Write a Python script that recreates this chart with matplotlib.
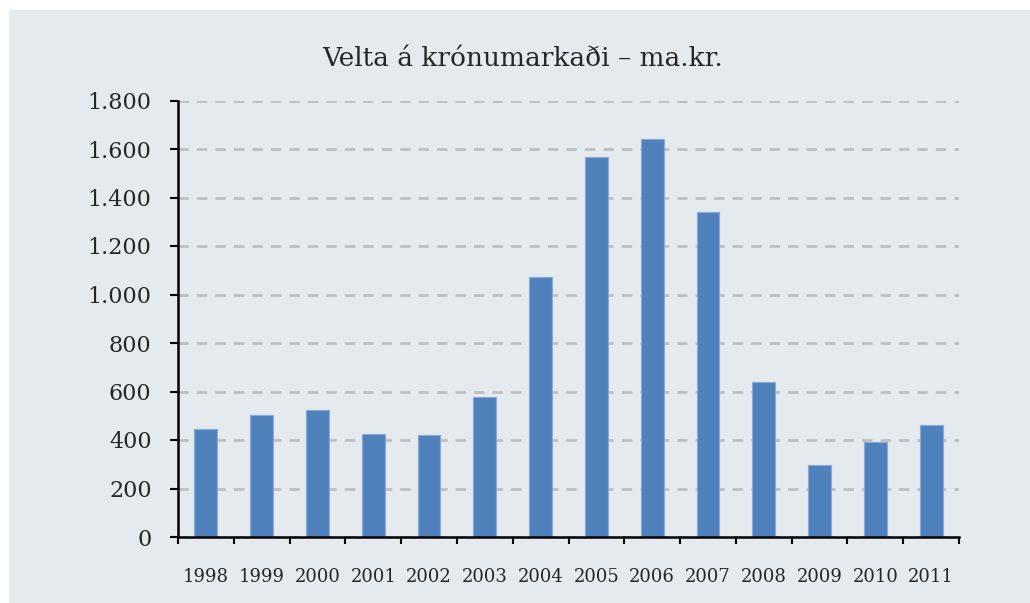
import matplotlib
matplotlib.use("Agg")
import matplotlib.pyplot as plt
from matplotlib.patches import Rectangle
import numpy as np

years = ['1998', '1999', '2000', '2001', '2002', '2003', '2004',
         '2005', '2006', '2007', '2008', '2009', '2010', '2011']
turnover = [447, 503, 522, 426, 419, 578, 1072,
            1568, 1640, 1339, 640, 295, 392, 462]
yticks = [0, 200, 400, 600, 800, 1000, 1200, 1400, 1600, 1800]
ytick_labels = ['0', '200', '400', '600', '800', '1.000', '1.200', '1.400', '1.600', '1.800']

plt.rcParams['font.family'] = ['DejaVu Serif']
plt.rcParams['lines.scale_dashes'] = False
text_col = '#262626'
bg = '#E4EAED'

fig = plt.figure(figsize=(10.3, 6.03), dpi=100)
fig.patch.set_facecolor('white')
fig.patches.append(Rectangle((9 / 1030, 0), 1, 1 - 10 / 603, transform=fig.transFigure,
                             facecolor=bg, edgecolor='none', zorder=-1))

ax = fig.add_axes([178 / 1030, 1 - 537 / 603, (959 - 178) / 1030, (537 - 100.5) / 603])
ax.set_facecolor('none')

x = np.arange(len(years))
ax.bar(x, turnover, width=0.41, color='#4F81BD', edgecolor='#8AA9D4', linewidth=0.8, zorder=3)

ax.set_xlim(-0.5, len(years) - 0.5)
ax.set_ylim(0, 1800)
ax.set_yticks(yticks)
ax.set_yticklabels(ytick_labels, fontsize=16, color=text_col)
ax.set_xticks(x)
ax.set_xticklabels(years, fontsize=13, color=text_col)
ax.set_xticks(np.arange(-0.5, len(years)), minor=True)
ax.tick_params(axis='x', which='major', length=0, pad=22)
ax.tick_params(axis='x', which='minor', length=5, width=1.5, direction='out', color='black')
ax.tick_params(axis='y', length=6, width=1.5, direction='out', color='black', pad=13)

ax.yaxis.grid(True, color='#BFBFBF', linewidth=2, linestyle=(0, (7.5, 5.8)), zorder=1)
ax.set_axisbelow(True)

for s in ['top', 'right']:
    ax.spines[s].set_visible(False)
for s in ['left', 'bottom']:
    ax.spines[s].set_linewidth(1.8)
    ax.spines[s].set_color('black')
    ax.spines[s].set_zorder(4)

fig.text(0.507, 1 - 58 / 603, 'Velta á krónumarkaði – ma.kr.', ha='center', va='center',
         fontsize=19, color=text_col)

plt.savefig('out.png', dpi=100, facecolor=fig.get_facecolor())
